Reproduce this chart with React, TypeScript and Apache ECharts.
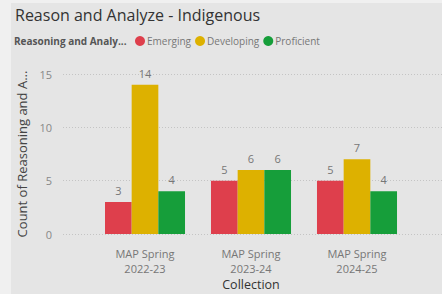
import React, { useEffect, useRef } from "react";
import * as echarts from "echarts";

const categories = ["MAP Spring\n2022-23", "MAP Spring\n2023-24", "MAP Spring\n2024-25"];
const seriesNames = ["Emerging", "Developing", "Proficient"];
const emerging = [3, 5, 5];
const developing = [14, 6, 7];
const proficient = [4, 6, 4];
const yTicks = [0, 5, 10, 15];
const colors = ["#DE3F4C", "#DDB100", "#169E3A"];

export default function App() {
  const ref = useRef<HTMLDivElement>(null);
  useEffect(() => {
    if (!ref.current) return;
    const chart = echarts.init(ref.current, null, { renderer: "svg" });
    const font = "'Open Sans', 'Noto Sans', sans-serif";
    const data = [emerging, developing, proficient];
    chart.setOption({
      animation: false,
      backgroundColor: "transparent",
      textStyle: { fontFamily: font },
      title: {
        text: "Reason and Analyze - Indigenous",
        left: 10,
        top: 2,
        textStyle: { fontSize: 16, fontWeight: "normal", color: "#333", fontFamily: font },
      },
      graphic: [
        {
          type: "text",
          left: 14,
          top: 36,
          style: { text: "Reasoning and Analy...", fontSize: 10, fontWeight: "bold", fill: "#555", fontFamily: font },
        },
      ],
      legend: {
        left: 135,
        top: 36,
        icon: "circle",
        itemWidth: 10,
        itemHeight: 10,
        itemGap: 4,
        padding: 0,
        textStyle: { fontSize: 10, color: "#777", padding: [0, 0, 0, -3], fontFamily: font },
        data: seriesNames,
      },
      grid: [
        { left: 92, right: 32, top: 74, bottom: 60, outerBoundsMode: "none", containLabel: false },
        { left: 63, right: 0, top: 74, bottom: 60, outerBoundsMode: "none", containLabel: false },
      ],
      xAxis: [
        {
          type: "category",
          gridIndex: 0,
          data: categories,
          axisLine: { show: false },
          axisTick: { show: false },
          axisLabel: { color: "#777", fontSize: 11, lineHeight: 15, margin: 12 },
          name: "Collection",
          nameLocation: "middle",
          nameGap: 50,
          nameMoveOverlap: false,
          nameTextStyle: { color: "#333", fontSize: 12.5, verticalAlign: "middle" },
        },
        { type: "value", gridIndex: 1, min: 0, max: 1, show: false },
      ],
      yAxis: [
        {
          type: "value",
          gridIndex: 0,
          min: 0,
          max: 15,
          interval: 5,
          show: false,
          splitLine: { show: false },
        },
        {
          type: "value",
          gridIndex: 1,
          min: yTicks[0],
          max: yTicks[yTicks.length - 1],
          interval: 5,
          axisLine: { show: false },
          axisTick: { show: false },
          axisLabel: { color: "#888", fontSize: 11, margin: 11 },
          splitLine: { show: true, lineStyle: { color: "#c4c4c4", type: [1, 2], width: 1 } },
          name: "Count of Reasoning and A...",
          nameLocation: "middle",
          nameGap: 35,
          nameMoveOverlap: false,
          nameTextStyle: { color: "#444", fontSize: 13 },
        },
      ],
      series: seriesNames.map((n, i) => ({
        name: n,
        type: "bar",
        xAxisIndex: 0,
        yAxisIndex: 0,
        data: data[i],
        barGap: "0%",
        barCategoryGap: "24.5%",
        itemStyle: { color: colors[i] },
        label: { show: true, position: "top", distance: 6, color: "#777", fontSize: 11 },
      })),
    });
    return () => chart.dispose();
  }, []);
  return (
    <div style={{ position: "absolute", left: 0, top: 0, width: 442, height: 294, background: "#f0f0f0" }}>
      <div style={{ position: "absolute", left: 11, top: 3, right: 0, bottom: 0, background: "#e5e5e5" }} />
      <div ref={ref} style={{ position: "absolute", left: 0, top: 0, width: 442, height: 294 }} />
    </div>
  );
}
